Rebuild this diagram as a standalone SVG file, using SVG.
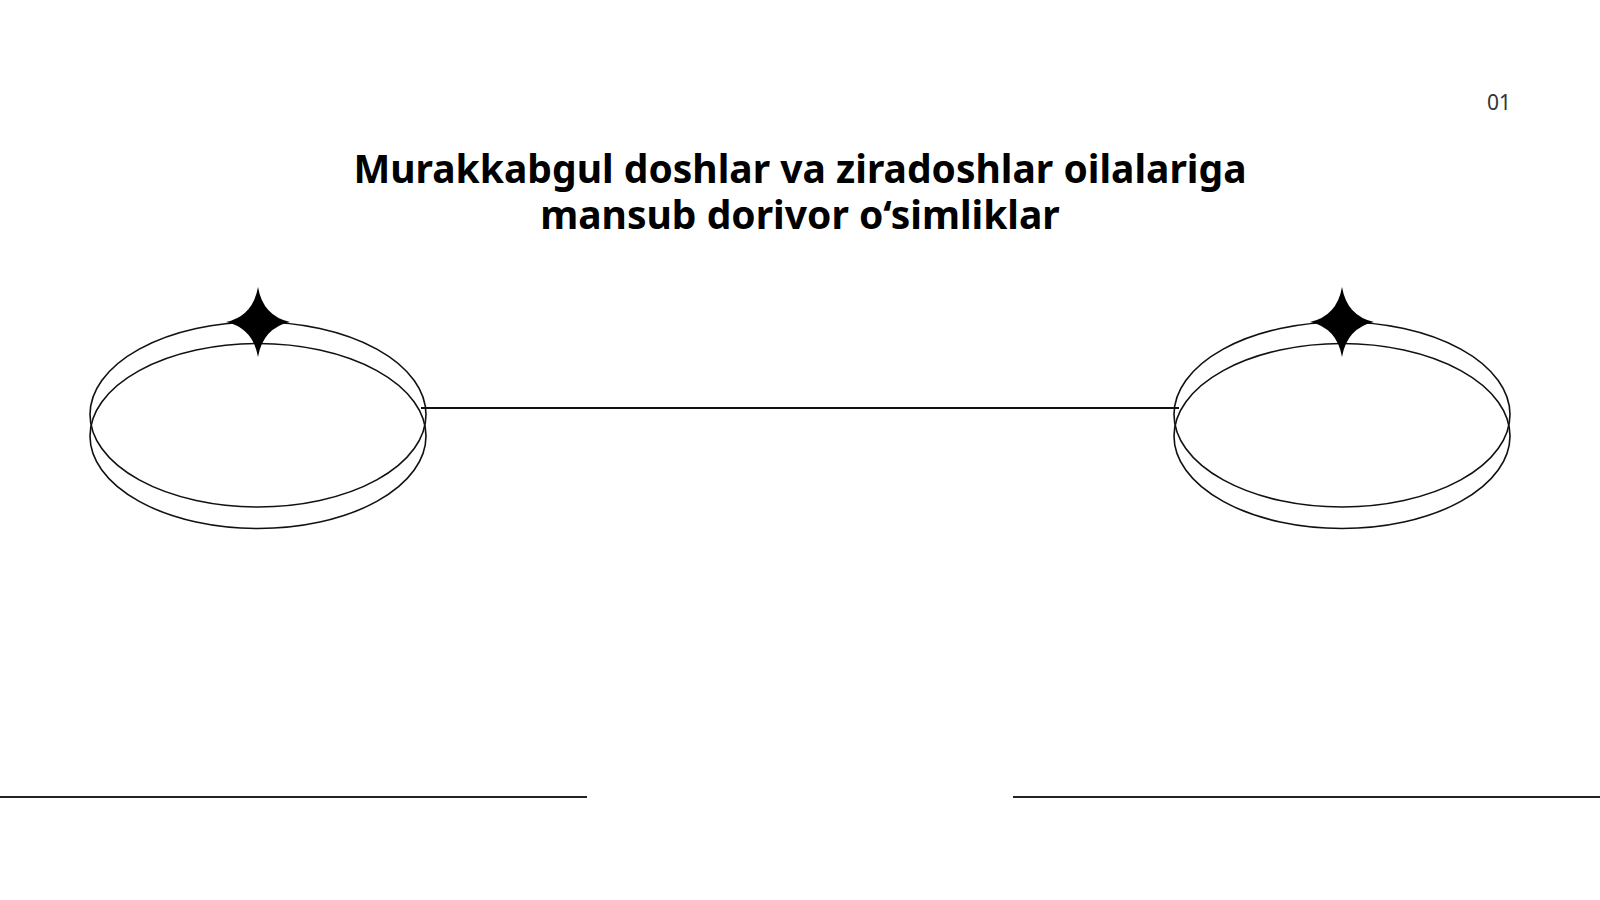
<svg xmlns="http://www.w3.org/2000/svg" width="1600" height="900" viewBox="0 0 1600 900">
  <style>
    .ring { fill: none; stroke: #111; stroke-width: 1.6; }
    .star { fill: #000; }
    .conn { stroke: #111; stroke-width: 1.8; fill: none; }
    .rule { stroke: #222; stroke-width: 2; }
    .title { font-family: "Noto Sans", "Open Sans", sans-serif; font-weight: 700; font-size: 39px; fill: #000; text-anchor: middle; }
    .num { font-family: "Noto Sans", "Open Sans", sans-serif; font-size: 21px; fill: #333; text-anchor: end; }
  </style>
  <defs>
    <path id="star" d="M0,-35 Q5,-6 32,0 Q5,6 0,35 Q-5,6 -32,0 Q-5,-6 0,-35 Z"/>
  </defs>
  <rect width="1600" height="900" fill="#fff"/>
  <text class="num" x="1511" y="110">01</text>
  <g id="title">
    <text class="title" x="800" y="183"><tspan x="800" y="183">Murakkabgul doshlar va ziradoshlar oilalariga</tspan><tspan x="800" y="229">mansub dorivor o‘simliklar</tspan></text>
  </g>
  <g id="connectors">
    <line class="conn" x1="421" y1="408" x2="1179" y2="408"/>
  </g>
  <g id="node-left">
    <ellipse class="ring" cx="258" cy="414.5" rx="168" ry="92.5"/>
    <ellipse class="ring" cx="258" cy="436" rx="168" ry="92.5"/>
    <use href="#star" class="star" x="258" y="322"/>
  </g>
  <g id="node-right">
    <ellipse class="ring" cx="1342" cy="414.5" rx="168" ry="92.5"/>
    <ellipse class="ring" cx="1342" cy="436" rx="168" ry="92.5"/>
    <use href="#star" class="star" x="1342" y="322"/>
  </g>
  <g id="rules">
    <line class="rule" x1="0" y1="797" x2="587" y2="797"/>
    <line class="rule" x1="1013" y1="797" x2="1600" y2="797"/>
  </g>
</svg>
